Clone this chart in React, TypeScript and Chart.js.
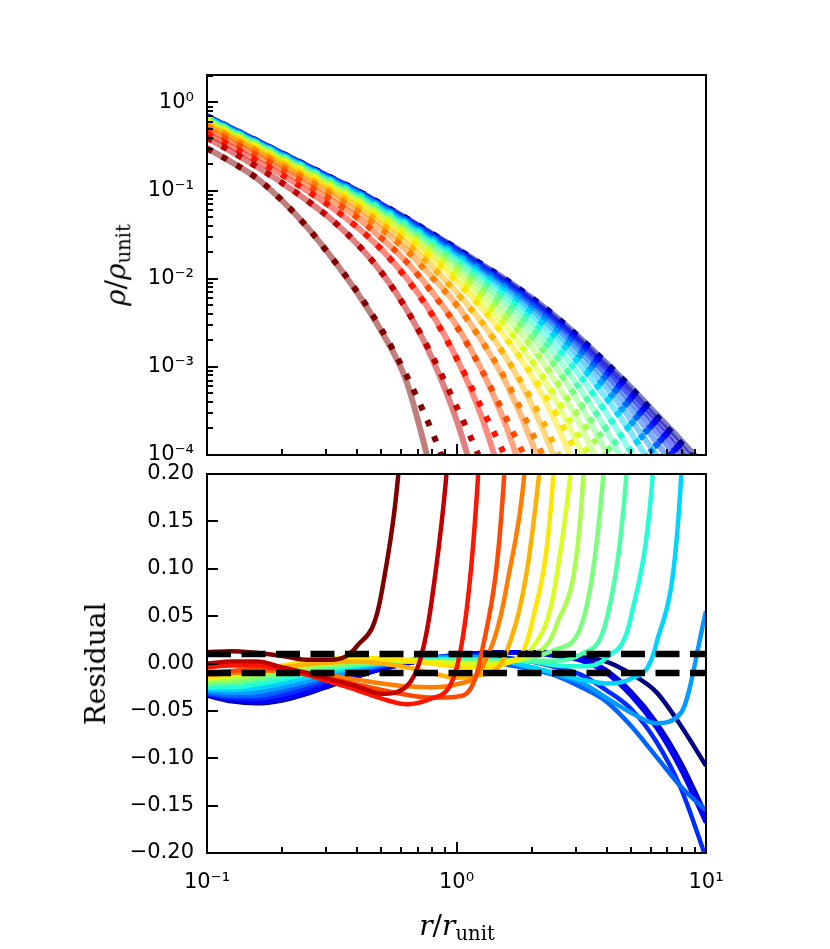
import React, { useEffect, useRef } from 'react'
import { Chart, registerables } from 'chart.js'

Chart.register(...registerables)

// r / r_unit sample points (0.1 dex apart)
const radius = [0.1, 0.1259, 0.1585, 0.1995, 0.2512, 0.3162, 0.3981, 0.5012, 0.631, 0.7943, 1, 1.259, 1.585, 1.995, 2.512, 3.162, 3.981, 5.012, 6.31, 7.943, 10]

// log10(rho / rho_unit) of the measured profiles (solid), one row per snapshot
const densityMeasured = [
  [-0.52, -0.68, -0.86, -1.11, -1.41, -1.76, -2.15, -2.60, -3.17, -4.20],
  [-0.40, -0.56, -0.73, -0.91, -1.11, -1.33, -1.60, -1.93, -2.35, -2.89, -3.60, -4.55],
  [-0.35, -0.50, -0.66, -0.82, -1.00, -1.19, -1.41, -1.67, -1.99, -2.39, -2.90, -3.56, -4.44],
  [-0.30, -0.45, -0.60, -0.76, -0.93, -1.11, -1.30, -1.54, -1.81, -2.14, -2.53, -3.03, -3.68, -4.54],
  [-0.27, -0.41, -0.56, -0.72, -0.88, -1.05, -1.23, -1.44, -1.68, -1.97, -2.29, -2.70, -3.19, -3.84, -4.69],
  [-0.245, -0.39, -0.54, -0.69, -0.85, -1.01, -1.18, -1.38, -1.60, -1.86, -2.15, -2.49, -2.90, -3.42, -4.09, -4.96],
  [-0.23, -0.37, -0.52, -0.67, -0.82, -0.98, -1.14, -1.34, -1.54, -1.77, -2.03, -2.33, -2.68, -3.10, -3.64, -4.33],
  [-0.21, -0.36, -0.50, -0.65, -0.80, -0.96, -1.12, -1.30, -1.50, -1.72, -1.96, -2.24, -2.55, -2.93, -3.39, -3.97, -4.70],
  [-0.20, -0.35, -0.49, -0.64, -0.79, -0.94, -1.10, -1.28, -1.47, -1.68, -1.90, -2.16, -2.44, -2.77, -3.18, -3.68, -4.29],
  [-0.19, -0.34, -0.48, -0.63, -0.77, -0.92, -1.08, -1.26, -1.44, -1.64, -1.85, -2.09, -2.35, -2.65, -3.01, -3.45, -3.97, -4.59],
  [-0.185, -0.33, -0.47, -0.62, -0.76, -0.91, -1.06, -1.23, -1.41, -1.61, -1.81, -2.04, -2.27, -2.55, -2.88, -3.27, -3.72, -4.25],
  [-0.18, -0.32, -0.46, -0.61, -0.75, -0.90, -1.05, -1.22, -1.39, -1.58, -1.78, -1.99, -2.21, -2.47, -2.77, -3.12, -3.52, -3.98, -4.51],
  [-0.17, -0.32, -0.46, -0.60, -0.74, -0.89, -1.03, -1.20, -1.37, -1.56, -1.74, -1.95, -2.16, -2.40, -2.67, -2.99, -3.35, -3.75, -4.21],
  [-0.17, -0.31, -0.45, -0.59, -0.74, -0.88, -1.02, -1.19, -1.36, -1.54, -1.72, -1.92, -2.12, -2.35, -2.60, -2.90, -3.23, -3.60, -4.00, -4.44],
  [-0.163, -0.30, -0.445, -0.587, -0.728, -0.871, -1.014, -1.178, -1.344, -1.52, -1.70, -1.89, -2.09, -2.305, -2.55, -2.83, -3.14, -3.48, -3.85, -4.24],
  [-0.16, -0.30, -0.445, -0.585, -0.726, -0.868, -1.01, -1.172, -1.335, -1.51, -1.686, -1.874, -2.063, -2.276, -2.512, -2.782, -3.078, -3.392, -3.735, -4.09, -4.47],
  [-0.16, -0.30, -0.44, -0.58, -0.723, -0.864, -1.005, -1.167, -1.33, -1.50, -1.675, -1.86, -2.045, -2.25, -2.48, -2.74, -3.03, -3.33, -3.65, -3.98, -4.33],
  [-0.16, -0.30, -0.44, -0.58, -0.722, -0.862, -1.003, -1.164, -1.326, -1.496, -1.668, -1.85, -2.035, -2.238, -2.463, -2.713, -2.99, -3.278, -3.588, -3.90, -4.23],
  [-0.155, -0.295, -0.435, -0.575, -0.715, -0.855, -0.995, -1.155, -1.315, -1.485, -1.655, -1.835, -2.015, -2.215, -2.435, -2.685, -2.955, -3.235, -3.535, -3.835, -4.145],
]

// log10(rho / rho_unit) of the fitted profiles (dotted)
const densityFit = [
  [-0.52, -0.68, -0.86, -1.11, -1.41, -1.76, -2.14, -2.58, -3.10, -3.72, -4.45],
  [-0.40, -0.56, -0.73, -0.91, -1.11, -1.33, -1.60, -1.93, -2.35, -2.86, -3.45, -4.08, -4.80],
  [-0.35, -0.50, -0.66, -0.82, -1.00, -1.19, -1.41, -1.67, -2.00, -2.40, -2.90, -3.46, -4.05, -4.80],
  [-0.30, -0.45, -0.60, -0.76, -0.93, -1.11, -1.30, -1.54, -1.81, -2.15, -2.54, -3.03, -3.59, -4.20, -5.00],
  [-0.27, -0.41, -0.56, -0.72, -0.88, -1.05, -1.23, -1.44, -1.68, -1.98, -2.30, -2.70, -3.16, -3.73, -4.35, -5.10],
  [-0.245, -0.39, -0.54, -0.69, -0.85, -1.01, -1.18, -1.38, -1.60, -1.86, -2.16, -2.49, -2.90, -3.37, -3.94, -4.66],
  [-0.23, -0.37, -0.52, -0.67, -0.82, -0.98, -1.14, -1.34, -1.54, -1.77, -2.03, -2.33, -2.68, -3.08, -3.54, -4.10, -4.80],
  [-0.21, -0.36, -0.50, -0.65, -0.80, -0.96, -1.12, -1.30, -1.50, -1.72, -1.96, -2.24, -2.55, -2.92, -3.35, -3.84, -4.40],
  [-0.20, -0.35, -0.49, -0.64, -0.79, -0.94, -1.10, -1.28, -1.47, -1.68, -1.90, -2.16, -2.44, -2.77, -3.16, -3.61, -4.06, -4.70],
  [-0.19, -0.34, -0.48, -0.63, -0.77, -0.92, -1.08, -1.26, -1.44, -1.64, -1.85, -2.09, -2.35, -2.65, -3.01, -3.43, -3.88, -4.33],
  [-0.185, -0.33, -0.47, -0.62, -0.76, -0.91, -1.06, -1.23, -1.41, -1.61, -1.81, -2.04, -2.27, -2.55, -2.88, -3.27, -3.70, -4.15, -4.75],
  [-0.18, -0.32, -0.46, -0.61, -0.75, -0.90, -1.05, -1.22, -1.39, -1.58, -1.78, -1.99, -2.21, -2.47, -2.77, -3.12, -3.52, -3.96, -4.41],
  [-0.17, -0.32, -0.46, -0.60, -0.74, -0.89, -1.03, -1.20, -1.37, -1.56, -1.74, -1.95, -2.16, -2.40, -2.67, -2.99, -3.35, -3.75, -4.20, -4.60],
  [-0.17, -0.31, -0.45, -0.59, -0.74, -0.88, -1.02, -1.19, -1.36, -1.54, -1.72, -1.92, -2.12, -2.35, -2.60, -2.91, -3.25, -3.62, -4.03, -4.46],
  [-0.163, -0.30, -0.445, -0.587, -0.728, -0.871, -1.014, -1.178, -1.344, -1.52, -1.70, -1.89, -2.09, -2.305, -2.55, -2.835, -3.15, -3.50, -3.88, -4.29],
  [-0.16, -0.30, -0.445, -0.585, -0.726, -0.868, -1.01, -1.172, -1.335, -1.51, -1.686, -1.874, -2.063, -2.276, -2.512, -2.785, -3.09, -3.41, -3.77, -4.15, -4.57],
  [-0.16, -0.30, -0.44, -0.58, -0.723, -0.864, -1.005, -1.167, -1.33, -1.50, -1.675, -1.86, -2.045, -2.25, -2.48, -2.74, -3.035, -3.345, -3.68, -4.03, -4.41],
  [-0.16, -0.30, -0.44, -0.58, -0.722, -0.862, -1.003, -1.164, -1.326, -1.496, -1.668, -1.85, -2.035, -2.238, -2.463, -2.713, -2.99, -3.29, -3.61, -3.94, -4.30],
  [-0.155, -0.295, -0.435, -0.575, -0.715, -0.855, -0.995, -1.155, -1.315, -1.485, -1.655, -1.835, -2.015, -2.215, -2.435, -2.685, -2.955, -3.239, -3.553, -3.87, -4.20],
]

// fractional residual of each snapshot
const residual = [
  [0.012, 0.013, 0.011, 0.008, 0.004, 0.004, 0.018, 0.075, 0.32, 1.0],
  [0.000, 0.002, 0.002, -0.004, -0.010, -0.017, -0.024, -0.032, -0.024, 0.065, 0.35, 1.0],
  [-0.004, -0.002, -0.002, -0.006, -0.012, -0.020, -0.028, -0.037, -0.043, -0.037, -0.005, 0.26, 1.0],
  [-0.010, -0.008, -0.006, -0.006, -0.010, -0.016, -0.022, -0.028, -0.033, -0.036, -0.035, 0.010, 0.24, 1.0],
  [-0.012, -0.010, -0.008, -0.008, -0.010, -0.013, -0.017, -0.021, -0.024, -0.025, -0.022, -0.005, 0.08, 0.30, 1.0],
  [-0.012, -0.010, -0.007, -0.004, -0.001, 0.001, 0.002, 0.000, -0.004, -0.010, -0.015, -0.012, 0.012, 0.13, 0.42, 1.0],
  [-0.014, -0.011, -0.006, -0.002, 0.002, 0.005, 0.006, 0.005, 0.003, 0.000, -0.003, -0.004, 0.000, 0.040, 0.25, 1.0],
  [-0.016, -0.013, -0.009, -0.004, 0.000, 0.003, 0.005, 0.005, 0.004, 0.002, 0.000, -0.001, 0.002, 0.015, 0.09, 0.35, 1.0],
  [-0.018, -0.016, -0.012, -0.007, -0.003, 0.000, 0.002, 0.003, 0.003, 0.002, 0.001, 0.000, 0.002, 0.008, 0.04, 0.165, 0.7],
  [-0.020, -0.019, -0.015, -0.010, -0.005, -0.002, 0.000, 0.001, 0.002, 0.002, 0.002, 0.002, 0.003, 0.006, 0.015, 0.04, 0.24, 0.8],
  [-0.022, -0.021, -0.018, -0.013, -0.008, -0.004, -0.001, 0.001, 0.002, 0.003, 0.003, 0.003, 0.003, 0.003, 0.003, 0.010, 0.045, 0.27, 0.9],
  [-0.025, -0.025, -0.022, -0.017, -0.011, -0.006, -0.002, 0.001, 0.003, 0.004, 0.004, 0.004, 0.003, 0.002, -0.002, -0.003, 0.006, 0.05, 0.25, 0.9],
  [-0.027, -0.028, -0.026, -0.021, -0.015, -0.009, -0.004, 0.000, 0.003, 0.005, 0.005, 0.004, 0.002, -0.004, -0.010, -0.017, -0.021, -0.016, 0.020, 0.195, 0.9],
  [-0.029, -0.031, -0.030, -0.025, -0.019, -0.012, -0.006, -0.001, 0.003, 0.006, 0.007, 0.007, 0.002, -0.004, -0.012, -0.020, -0.036, -0.052, -0.063, -0.052, 0.055],
  [-0.031, -0.034, -0.034, -0.029, -0.022, -0.014, -0.007, -0.002, 0.002, 0.005, 0.006, 0.004, -0.001, -0.006, -0.013, -0.025, -0.040, -0.066, -0.098, -0.130, -0.155],
  [-0.032, -0.036, -0.037, -0.033, -0.026, -0.017, -0.009, -0.003, 0.002, 0.006, 0.008, 0.008, 0.006, 0.002, -0.004, -0.012, -0.028, -0.048, -0.082, -0.132, -0.205],
  [-0.033, -0.038, -0.040, -0.037, -0.030, -0.021, -0.012, -0.005, 0.001, 0.006, 0.009, 0.011, 0.012, 0.011, 0.008, 0.003, -0.010, -0.034, -0.067, -0.112, -0.168],
  [-0.033, -0.039, -0.041, -0.038, -0.031, -0.022, -0.013, -0.006, 0.000, 0.005, 0.009, 0.011, 0.012, 0.012, 0.010, 0.005, -0.007, -0.030, -0.062, -0.105, -0.160],
  [-0.034, -0.040, -0.042, -0.039, -0.032, -0.023, -0.014, -0.006, 0.000, 0.005, 0.009, 0.011, 0.012, 0.012, 0.011, 0.007, 0.002, -0.011, -0.030, -0.066, -0.108],
]

const densityTicks = [1e-4, 1e-3, 1e-2, 1e-1, 1]
const radiusTicks = [0.1, 1, 10]
const residualTicks = [-0.2, -0.15, -0.1, -0.05, 0, 0.05, 0.1, 0.15, 0.2]
const toleranceBand = [0.01, -0.01]

// jet colormap, last snapshot (dark red) -> first (navy)
const jet = [
  [128, 0, 0], [192, 0, 0], [255, 20, 0], [255, 73, 0], [255, 125, 0], [255, 177, 0], [255, 230, 0],
  [215, 255, 32], [169, 255, 78], [123, 255, 123], [78, 255, 169], [32, 255, 215], [0, 212, 255],
  [0, 156, 255], [0, 99, 255], [0, 43, 255], [0, 0, 255], [0, 0, 192], [0, 0, 128],
]

const rgba = (c: number[], a = 1) => `rgba(${c[0]},${c[1]},${c[2]},${a})`

const SUP: Record<string, string> = {
  '0': '\u2070', '1': '\u00B9', '2': '\u00B2', '3': '\u00B3', '4': '\u2074',
  '5': '\u2075', '6': '\u2076', '7': '\u2077', '8': '\u2078', '9': '\u2079', '-': '\u207B',
}

const powLabel = (v: number) => {
  const e = Math.round(Math.log10(v))
  return '10' + String(e).split('').map((c) => SUP[c]).join('')
}

const residualLabel = (v: number) => {
  const s = Math.abs(v) < 1e-9 ? '0.00' : v.toFixed(2)
  return s.replace('-', '\u2212')
}

const tickFont = { family: 'DejaVu Sans', size: 21 }

// minor/major marks for a log axis
const logMarks = (min: number, max: number) => {
  const out: { v: number; major: boolean }[] = []
  for (let e = Math.floor(Math.log10(min)); e <= Math.ceil(Math.log10(max)); e++) {
    for (let m = 1; m <= 9; m++) {
      const v = m * Math.pow(10, e)
      if (v >= min * 0.9999 && v <= max * 1.0001) out.push({ v, major: m === 1 })
    }
  }
  return out
}

// matplotlib-like frame with inward ticks on the left and bottom
const frameTicks = {
  id: 'frameTicks',
  afterDatasetsDraw(chart: any) {
    const { ctx, chartArea } = chart
    const { left, right, top, bottom } = chartArea
    const xs = chart.scales.x
    const ys = chart.scales.y
    ctx.save()
    ctx.strokeStyle = '#000'
    ctx.lineWidth = 2
    ctx.beginPath()
    for (const t of logMarks(xs.min, xs.max)) {
      const px = Math.round(xs.getPixelForValue(t.v))
      ctx.moveTo(px, bottom)
      ctx.lineTo(px, bottom - (t.major ? 11 : 6))
    }
    const yMarks = ys.type === 'logarithmic'
      ? logMarks(ys.min, ys.max)
      : residualTicks.map((v) => ({ v, major: true }))
    for (const t of yMarks) {
      const py = Math.round(ys.getPixelForValue(t.v))
      ctx.moveTo(left, py)
      ctx.lineTo(left + (t.major ? 11 : 6), py)
    }
    ctx.stroke()
    ctx.strokeRect(left, top, right - left, bottom - top)
    ctx.restore()
  },
}

const hiddenGrid = { display: false, drawTicks: false }

const App: React.FC = () => {
  const topRef = useRef<HTMLCanvasElement | null>(null)
  const bottomRef = useRef<HTMLCanvasElement | null>(null)

  useEffect(() => {
    if (!topRef.current || !bottomRef.current) return

    // each snapshot: solid then dotted on top, later (redder) snapshots above earlier ones
    const dotted = densityFit.map((row, i) => ({
      data: row.map((v, j) => ({ x: radius[j], y: Math.pow(10, v) })),
      borderColor: rgba(jet[i]),
      borderWidth: 6,
      borderDash: [6, 11],
      borderCapStyle: 'butt' as const,
      pointRadius: 0,
      cubicInterpolationMode: 'monotone' as const,
      clip: 0,
      order: 2 * i,
    }))
    const solid = densityMeasured.map((row, i) => ({
      data: row.map((v, j) => ({ x: radius[j], y: Math.pow(10, v) })),
      borderColor: rgba(jet[i], 0.5),
      borderWidth: 6,
      pointRadius: 0,
      cubicInterpolationMode: 'monotone' as const,
      clip: 0,
      order: 2 * i + 1,
    }))

    const top = new Chart(topRef.current, {
      type: 'line',
      data: { datasets: [...dotted, ...solid] as any },
      options: {
        animation: false,
        responsive: false,
        events: [],
        layout: { padding: { top: 75, right: 124, left: 0, bottom: 0 } },
        plugins: { legend: { display: false }, tooltip: { enabled: false } },
        scales: {
          x: {
            type: 'logarithmic',
            min: 0.1,
            max: 10,
            grid: hiddenGrid,
            border: { display: false },
            ticks: { display: false },
            afterFit: (s: any) => { s.height = 494 },
          },
          y: {
            type: 'logarithmic',
            min: 1e-4,
            max: 2.05,
            grid: hiddenGrid,
            border: { display: false },
            ticks: {
              font: tickFont,
              color: '#000',
              padding: 13,
              autoSkip: false,
              callback: (v: any) => powLabel(Number(v)),
            },
            afterBuildTicks: (s: any) => { s.ticks = densityTicks.map((value) => ({ value })) },
            afterFit: (s: any) => { s.width = 207 },
          },
        },
      } as any,
      plugins: [frameTicks],
    })

    const lines = residual.map((row, i) => ({
      data: row.map((v, j) => ({ x: radius[j], y: v })),
      borderColor: rgba(jet[i]),
      borderWidth: 4.5,
      borderJoinStyle: 'round' as const,
      pointRadius: 0,
      cubicInterpolationMode: 'monotone' as const,
      clip: 0,
      order: 1 + i,
    }))
    const band = toleranceBand.map((v) => ({
      data: [{ x: radius[0], y: v }, { x: radius[radius.length - 1], y: v }],
      borderColor: '#000',
      borderWidth: 6.5,
      borderDash: [24, 10.5],
      borderCapStyle: 'butt' as const,
      pointRadius: 0,
      clip: 0,
      order: 0,
    }))

    const bottom = new Chart(bottomRef.current, {
      type: 'line',
      data: { datasets: [...band, ...lines] as any },
      options: {
        animation: false,
        responsive: false,
        events: [],
        layout: { padding: { top: 474, right: 124, left: 0, bottom: 0 } },
        plugins: { legend: { display: false }, tooltip: { enabled: false } },
        scales: {
          x: {
            type: 'logarithmic',
            min: 0.1,
            max: 10,
            grid: hiddenGrid,
            border: { display: false },
            ticks: {
              font: tickFont,
              color: '#000',
              padding: 17,
              autoSkip: false,
              maxRotation: 0,
              callback: (v: any) => powLabel(Number(v)),
            },
            afterBuildTicks: (s: any) => { s.ticks = radiusTicks.map((value) => ({ value })) },
            afterFit: (s: any) => { s.height = 96 },
          },
          y: {
            type: 'linear',
            min: -0.2,
            max: 0.2,
            grid: hiddenGrid,
            border: { display: false },
            ticks: {
              font: tickFont,
              color: '#000',
              padding: 13,
              autoSkip: false,
              callback: (v: any) => residualLabel(Number(v)),
            },
            afterBuildTicks: (s: any) => { s.ticks = residualTicks.map((value) => ({ value })) },
            afterFit: (s: any) => { s.width = 207 },
          },
        },
      } as any,
      plugins: [frameTicks],
    })

    return () => {
      top.destroy()
      bottom.destroy()
    }
  }, [])

  const title: React.CSSProperties = {
    position: 'absolute',
    fontFamily: "'DejaVu Serif', serif",
    fontSize: 28,
    lineHeight: 1,
    whiteSpace: 'nowrap',
    color: '#000',
  }
  const sub: React.CSSProperties = { fontSize: '0.7em', fontStyle: 'normal', verticalAlign: '-0.25em' }

  return (
    <div style={{ position: 'absolute', left: 0, top: 0, width: 830, height: 949, background: '#fff' }}>
      <canvas ref={topRef} width={830} height={949} style={{ position: 'absolute', left: 0, top: 0 }} />
      <canvas ref={bottomRef} width={830} height={949} style={{ position: 'absolute', left: 0, top: 0 }} />
      <div style={{ ...title, left: 118, top: 265, transform: 'translate(-50%, -50%) rotate(-90deg)' }}>
        <i>ρ</i>/<i>ρ</i><span style={sub}>unit</span>
      </div>
      <div style={{ ...title, left: 96, top: 664, transform: 'translate(-50%, -50%) rotate(-90deg)' }}>
        Residual
      </div>
      <div style={{ ...title, left: 457, top: 928, transform: 'translate(-50%, -50%)' }}>
        <i>r</i>/<i>r</i><span style={sub}>unit</span>
      </div>
    </div>
  )
}

export default App
